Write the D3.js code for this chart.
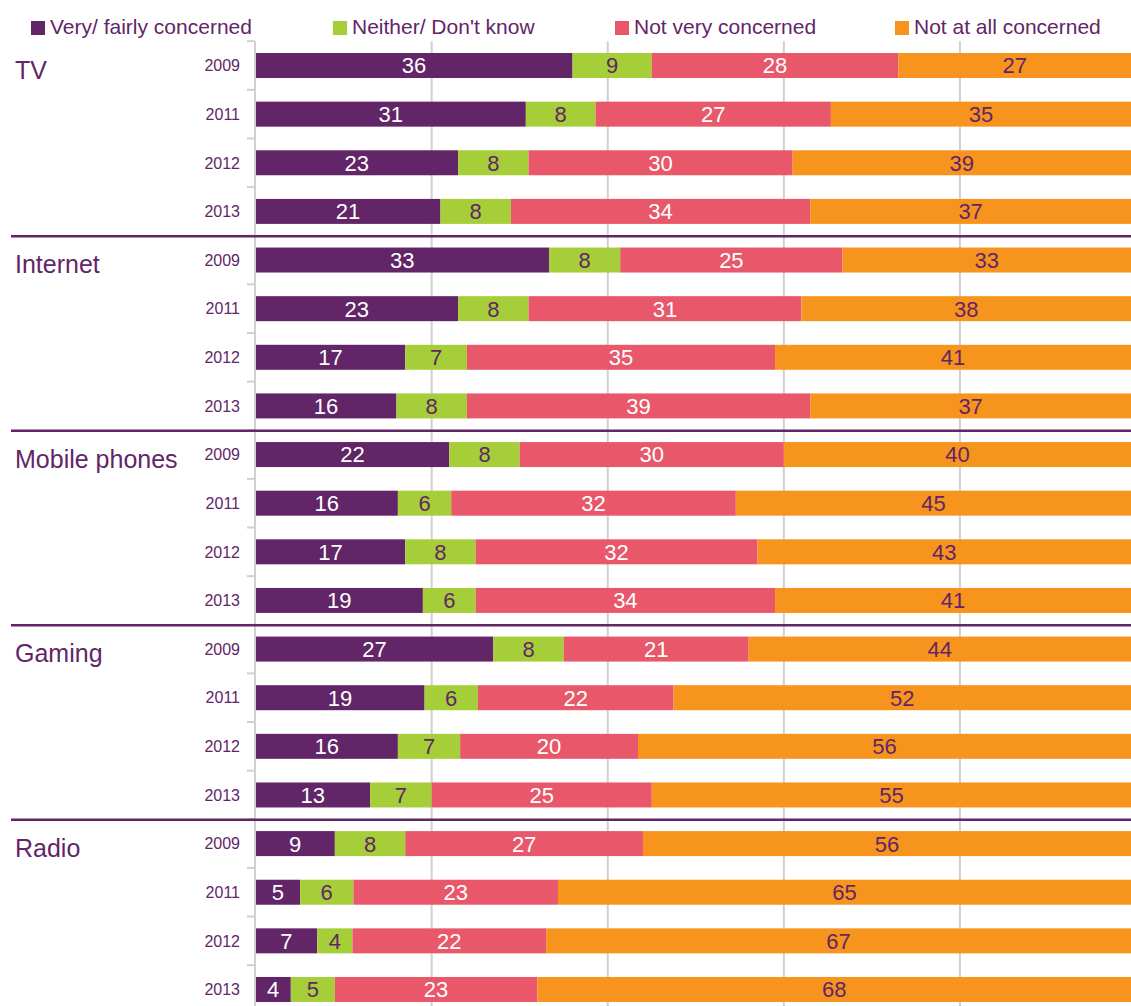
<!DOCTYPE html>
<html lang="en">
<head>
    <meta charset="UTF-8">
    <title>Concern about content by medium</title>
    <script src="https://d3js.org/d3.v7.min.js"></script>
    <style>
        body { margin: 0; background: #fff; font-family: "Liberation Sans", Arial, sans-serif; }
        svg { display: block; }
    </style>
</head>
<body>
<svg id="chart" width="1131" height="1006"></svg>

<script>
    const groups = ["TV", "Internet", "Mobile phones", "Gaming", "Radio"];
    const years = ["2009", "2011", "2012", "2013"];
    const seriesNames = ["Very/ fairly concerned", "Neither/ Don't know", "Not very concerned", "Not at all concerned"];

    // one value per row, groups in order, years inside each group
    const veryFairly = [36, 31, 23, 21, 33, 23, 17, 16, 22, 16, 17, 19, 27, 19, 16, 13, 9, 5, 7, 4];
    const neither    = [9, 8, 8, 8, 8, 8, 7, 8, 8, 6, 8, 6, 8, 6, 7, 7, 8, 6, 4, 5];
    const notVery    = [28, 27, 30, 34, 25, 31, 35, 39, 30, 32, 32, 34, 21, 22, 20, 25, 27, 23, 22, 23];
    const notAtAll   = [27, 35, 39, 37, 33, 38, 41, 37, 40, 45, 43, 41, 44, 52, 56, 55, 56, 65, 67, 68];

    const colors = ["#622567", "#a6ce39", "#e8586a", "#f7941d"];
    const labelColors = ["#ffffff", "#622567", "#ffffff", "#622567"];
    const purple = "#622567";
    const W = 1131, H = 1006;

    const svg = d3.select("#chart");

    const rows = [];
    groups.forEach((g, gi) => {
        years.forEach((y, yi) => {
            const i = gi * years.length + yi;
            const vals = [veryFairly[i], neither[i], notVery[i], notAtAll[i]];
            rows.push({ key: g + "|" + y, group: g, year: y, first: yi === 0, vals: vals });
        });
    });

    const x = d3.scaleLinear().domain([0, 100]).range([255.6, 1136]);
    const yScale = d3.scaleBand()
        .domain(rows.map(r => r.key))
        .range([41.2, 1013.8])
        .paddingInner(0.486)
        .paddingOuter(0.243);
    const step = yScale.step();
    const plotTop = yScale.range()[0];

    // vertical gridlines
    svg.append("g")
        .selectAll("line")
        .data([20, 40, 60, 80])
        .enter()
        .append("line")
        .attr("x1", d => x(d))
        .attr("x2", d => x(d))
        .attr("y1", plotTop)
        .attr("y2", H)
        .attr("stroke", "#d0d0d0")
        .attr("stroke-width", 2);

    // stacked bars (100% stacked, normalised by row total)
    rows.forEach(r => {
        const total = d3.sum(r.vals);
        let acc = 0;
        const g = svg.append("g");
        r.vals.forEach((v, si) => {
            const x0 = x(acc / total * 100);
            const x1 = x((acc + v) / total * 100);
            acc += v;
            g.append("rect")
                .attr("x", x0)
                .attr("y", yScale(r.key))
                .attr("width", x1 - x0)
                .attr("height", yScale.bandwidth())
                .attr("fill", colors[si]);
            g.append("text")
                .attr("x", (x0 + Math.min(x1, W)) / 2)
                .attr("y", yScale(r.key) + yScale.bandwidth() / 2)
                .attr("dy", "0.36em")
                .attr("text-anchor", "middle")
                .attr("font-size", 22)
                .attr("fill", labelColors[si])
                .text(v);
        });
    });

    // category axis line and ticks
    svg.append("line")
        .attr("x1", 255).attr("x2", 255)
        .attr("y1", plotTop).attr("y2", H)
        .attr("stroke", "#d0d0d0")
        .attr("stroke-width", 2);

    svg.append("g")
        .selectAll("line")
        .data(d3.range(rows.length + 1))
        .enter()
        .append("line")
        .attr("x1", 247).attr("x2", 255)
        .attr("y1", d => plotTop + d * step)
        .attr("y2", d => plotTop + d * step)
        .attr("stroke", "#d0d0d0")
        .attr("stroke-width", 2);

    // year labels
    svg.append("g")
        .selectAll("text")
        .data(rows)
        .enter()
        .append("text")
        .attr("x", 240)
        .attr("y", r => yScale(r.key) + yScale.bandwidth() / 2)
        .attr("dy", "0.36em")
        .attr("text-anchor", "end")
        .attr("font-size", 16)
        .attr("fill", purple)
        .text(r => r.year);

    // group labels
    svg.append("g")
        .selectAll("text")
        .data(rows.filter(r => r.first))
        .enter()
        .append("text")
        .attr("x", 15)
        .attr("y", r => yScale(r.key) + yScale.bandwidth() / 2 + 13)
        .attr("font-size", 25)
        .attr("fill", purple)
        .text(r => r.group);

    // separators between groups
    svg.append("g")
        .selectAll("line")
        .data(d3.range(1, groups.length))
        .enter()
        .append("line")
        .attr("x1", 11).attr("x2", W)
        .attr("y1", d => plotTop + d * years.length * step + 0.5)
        .attr("y2", d => plotTop + d * years.length * step + 0.5)
        .attr("stroke", purple)
        .attr("stroke-width", 2.5);

    // legend
    const legendX = [31, 333, 615, 895];
    const legend = svg.append("g")
        .selectAll("g")
        .data(seriesNames)
        .enter()
        .append("g")
        .attr("transform", (d, i) => `translate(${legendX[i]},21)`);

    legend.append("rect")
        .attr("width", 14)
        .attr("height", 14)
        .attr("fill", (d, i) => colors[i]);

    legend.append("text")
        .attr("x", 19)
        .attr("y", 13)
        .attr("font-size", 21)
        .attr("fill", purple)
        .text(d => d);
</script>
</body>
</html>
